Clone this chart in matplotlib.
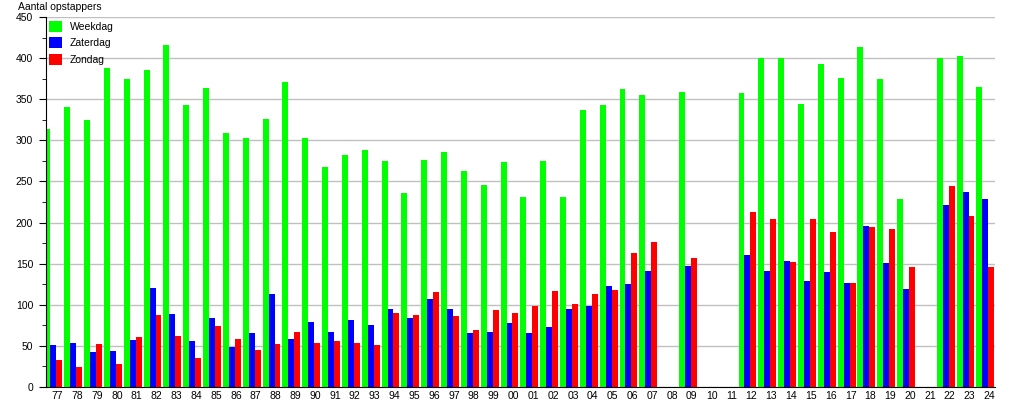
import matplotlib
matplotlib.use("Agg")
import matplotlib.pyplot as plt
import numpy as np
from matplotlib.ticker import MultipleLocator

plt.rcParams['font.family'] = ['Liberation Sans', 'DejaVu Sans']

years = ["77", "78", "79", "80", "81", "82", "83", "84", "85", "86", "87", "88",
         "89", "90", "91", "92", "93", "94", "95", "96", "97", "98", "99", "00",
         "01", "02", "03", "04", "05", "06", "07", "08", "09", "10", "11", "12",
         "13", "14", "15", "16", "17", "18", "19", "20", "21", "22", "23", "24"]

# 0 = geen telling dat jaar
weekdag = [314, 340, 325, 388, 375, 385, 416, 343, 364, 309, 303, 326,
           371, 303, 268, 282, 288, 275, 236, 276, 286, 263, 246, 274,
           231, 275, 231, 337, 343, 362, 355, 0, 359, 0, 0, 358,
           400, 400, 344, 393, 376, 414, 375, 229, 0, 400, 403, 365]
zaterdag = [51, 54, 43, 44, 57, 120, 89, 56, 84, 49, 66, 113,
            58, 79, 67, 82, 75, 95, 84, 107, 95, 66, 67, 78,
            66, 73, 95, 99, 123, 125, 141, 0, 147, 0, 0, 161,
            141, 153, 129, 140, 127, 196, 151, 119, 0, 221, 237, 229]
zondag = [33, 24, 52, 28, 61, 88, 62, 35, 74, 58, 45, 52,
          67, 54, 56, 54, 51, 90, 88, 116, 86, 69, 94, 90,
          99, 117, 101, 113, 118, 163, 176, 0, 157, 0, 0, 213,
          204, 152, 204, 189, 127, 195, 192, 146, 0, 245, 208, 146]

x = np.arange(len(years))
w = 0.3

fig = plt.figure(figsize=(10.15, 4.0), dpi=100)
ax = fig.add_axes([0.045, 0.0325, 0.9356, 0.925])

ax.bar(x - w, weekdag, w, color="#00ff00", label="Weekdag")
ax.bar(x, zaterdag, w, color="#0000ff", label="Zaterdag")
ax.bar(x + w, zondag, w, color="#ff0000", label="Zondag")

ax.set_xlim(-0.39, len(years) - 0.5)
ax.set_ylim(0, 450)
ax.yaxis.set_major_locator(MultipleLocator(50))
ax.yaxis.set_minor_locator(MultipleLocator(25))
ax.grid(axis="y", color="#c0c0c0", linewidth=1)
ax.set_axisbelow(True)

ax.set_xticks(x + 0.2)
ax.set_xticklabels(years)
ax.tick_params(axis="x", length=0, pad=3, labelsize=7.5)
ax.tick_params(axis="y", which="major", length=5, labelsize=7.5, pad=4)
ax.tick_params(axis="y", which="minor", length=3)

for s in ["top", "right"]:
    ax.spines[s].set_visible(False)

ax.legend(loc="upper left", bbox_to_anchor=(0.003, 0.99), frameon=False,
          fontsize=7.5, handlelength=1.25, handleheight=1.25,
          handletextpad=0.8, labelspacing=0.55, borderpad=0, borderaxespad=0)

fig.text(0.0177, 0.996, "Aantal opstappers", fontsize=7.5, va="top", ha="left")

plt.savefig("out.png", dpi=100)
